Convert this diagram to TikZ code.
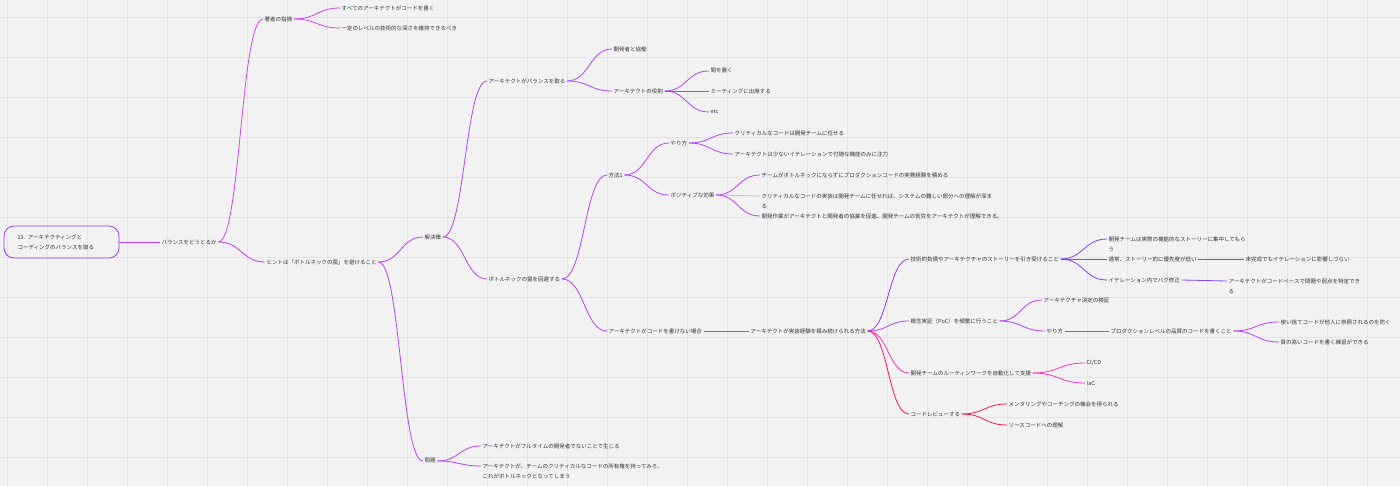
\documentclass[tikz,border=0pt]{standalone}
\usepackage{fontspec}
\setmainfont{Noto Sans CJK JP}
\usetikzlibrary{calc}
\definecolor{bggray}{RGB}{242,242,242}
\definecolor{gridgray}{RGB}{228,228,228}
\definecolor{inkgray}{RGB}{51,51,51}
\definecolor{rootviolet}{RGB}{140,60,255}
\definecolor{mainpurple}{RGB}{184,64,250}
\definecolor{toppurple}{RGB}{214,64,250}
\definecolor{debtviolet}{RGB}{136,64,245}
\definecolor{cipink}{RGB}{250,50,190}
\definecolor{revred}{RGB}{240,20,100}

\begin{document}
\begin{tikzpicture}[x=1pt, y=-1pt,
    every node/.style={font=\fontsize{5.5}{10}\selectfont, text=inkgray},
    topic/.style={anchor=west, inner sep=1.5pt},
    multi/.style={anchor=north west, align=left, inner sep=1.5pt},
    rootbox/.style={draw=rootviolet, line width=0.8pt, rounded corners=10pt,
      text width=88pt, inner xsep=13.5pt, minimum height=32pt, align=left},
    branch/.style={line width=0.8pt, to path={let \p1=(\tikztostart), \p2=(\tikztotarget) in
      .. controls ({(\x1+\x2)/2},\y1) and ({(\x1+\x2)/2},\y2) .. (\tikztotarget) \tikztonodes}},
    gridline/.style={draw=gridgray, line width=0.5pt}]

    % ---- background + grid ----
    \fill[bggray] (0,0) rectangle (1400,486);
    \useasboundingbox (0,0) rectangle (1400,486);
    \foreach \gx in {7,47,...,1399} \draw[gridline] (\gx,0) -- (\gx,486);
    \foreach \gy in {17,57,...,486} \draw[gridline] (0,\gy) -- (1400,\gy);

    % ---- root ----
    \node[rootbox] (root) at (61.5,242) {23. アーキテクティングと\\コーディングのバランスを取る};
    \node[topic] (balance) at (160,242) {バランスをどうとるか};

    % ---- top branch ----
    \node[topic] (author) at (263,19) {著者の指摘};
    \node[topic] (a1) at (340,8) {すべてのアーキテクトがコードを書く};
    \node[topic] (a2) at (340,28) {一定のレベルの技術的な深さを維持できるべき};

    % ---- hint ----
    \node[topic] (hint) at (265,262) {ヒントは「ボトルネックの罠」を避けること};
    \node[topic] (sol) at (423,237) {解決策};
    \node[topic] (prob) at (423,461) {問題};
    \node[topic] (p1) at (481,446) {アーキテクトがフルタイムの開発者でないことで生じる};
    \node[multi] (p2) at (481,461.8) {アーキテクトが、チームのクリティカルなコードの所有権を持ってみろ、\\これがボトルネックとなってしまう};

    % ---- balance ----
    \node[topic] (bal) at (487,81) {アーキテクトがバランスを取る};
    \node[topic] (coop) at (612,49) {開発者と協働};
    \node[topic] (role) at (612,91) {アーキテクトの役割};
    \node[topic] (r1) at (709,71) {間を置く};
    \node[topic] (r2) at (709,91) {ミーティングに出席する};
    \node[topic] (r3) at (709,112) {etc};

    % ---- avoid the trap ----
    \node[topic] (avoid) at (487,279) {ボトルネックの罠を回避する};
    \node[topic] (m1) at (607,175) {方法1};
    \node[topic] (how) at (669,143) {やり方};
    \node[topic] (h1) at (733,133) {クリティカルなコードは開発チームに任せる};
    \node[topic] (h2) at (733,154) {アーキテクトは少ないイテレーションで付随な機能のみに注力};
    \node[topic] (pos) at (669,195) {ポジティブな効果};
    \node[topic] (e1) at (760,175) {チームがボトルネックにならずにプロダクションコードの実務経験を積める};
    \node[multi] (e2) at (760,191.8) {クリティカルなコードの実装は開発チームに任せれば、システムの難しい部分への理解が深ま\\る};
    \node[topic] (e3) at (760,216) {開発作業がアーキテクトと開発者の協業を促進、開発チームの苦労をアーキテクトが理解できる。};

    % ---- no code ----
    \node[topic] (nocode) at (607,331) {アーキテクトがコードを書けない場合};
    \node[topic] (keep) at (749,331) {アーキテクトが実装経験を積み続けられる方法};

    \node[topic] (debt) at (909,259) {技術的負債やアーキテクチャのストーリーを引き受けること};
    \node[multi] (d1) at (1107,234.8) {開発チームは実際の機能的なストーリーに集中してもら\\う};
    \node[topic] (d2) at (1107,259) {通常、ストーリー的に優先度が低い};
    \node[topic] (d2a) at (1244,259) {未完成でもイテレーションに影響しづらい};
    \node[topic] (d3) at (1107,280) {イテレーション内でバグ修正};
    \node[multi] (d3a) at (1227,276.8) {アーキテクトがコードベースで問題や弱点を特定でき\\る};

    \node[topic] (poc) at (909,321) {概念実証（PoC）を頻繁に行うこと};
    \node[topic] (poc1) at (1042,300) {アーキテクチャ決定の検証};
    \node[topic] (poc2) at (1045,331) {やり方};
    \node[topic] (poc3) at (1109,331) {プロダクションレベルの品質のコードを書くこと};
    \node[topic] (q1) at (1279,322) {使い捨てコードが他人に参照されるのを防ぐ};
    \node[topic] (q2) at (1279,342) {質の高いコードを書く練習ができる};

    \node[topic] (auto) at (909,373) {開発チームのルーティンワークを自動化して支援};
    \node[topic] (ci) at (1085,363) {CI/CD};
    \node[topic] (iac) at (1085,383) {IaC};

    \node[topic] (rev) at (909,414) {コードレビューする};
    \node[topic] (rv1) at (1007,404) {メンタリングやコーチングの機会を得られる};
    \node[topic] (rv2) at (1007,425) {ソースコードへの理解};

    % ---- connectors ----
    \draw[branch, mainpurple] (root.east) to (balance.west);
    \draw[branch, toppurple] (balance.east) to (author.west);
    \draw[branch, mainpurple] (balance.east) to (hint.west);
    \draw[branch, toppurple] (author.east) to (a1.west);
    \draw[branch, toppurple] (author.east) to (a2.west);

    \draw[branch, mainpurple] (hint.east) to (sol.west);
    \draw[branch, mainpurple] (hint.east) to (prob.west);
    \draw[branch, mainpurple] (prob.east) to (p1.west);
    \draw[branch, mainpurple] (prob.east) to ([yshift=-4.2pt]p2.north west);

    \draw[branch, mainpurple] (sol.east) to (bal.west);
    \draw[branch, mainpurple] (sol.east) to (avoid.west);
    \draw[branch, mainpurple] (bal.east) to (coop.west);
    \draw[branch, mainpurple] (bal.east) to (role.west);
    \draw[branch, mainpurple] (role.east) to (r1.west);
    \draw[branch, mainpurple] (role.east) to (r2.west);
    \draw[branch, mainpurple] (role.east) to (r3.west);

    \draw[branch, mainpurple] (avoid.east) to (m1.west);
    \draw[branch, mainpurple] (avoid.east) to (nocode.west);
    \draw[branch, mainpurple] (m1.east) to (how.west);
    \draw[branch, mainpurple] (m1.east) to (pos.west);
    \draw[branch, mainpurple] (how.east) to (h1.west);
    \draw[branch, mainpurple] (how.east) to (h2.west);
    \draw[branch, mainpurple] (pos.east) to (e1.west);
    \draw[branch, mainpurple!45] (pos.east) to ([yshift=-4.2pt]e2.north west);
    \draw[branch, mainpurple] (pos.east) to (e3.west);

    \draw[branch, mainpurple] (nocode.east) to (keep.west);
    \draw[branch, debtviolet] (keep.east) to (debt.west);
    \draw[branch, mainpurple] (keep.east) to (poc.west);
    \draw[branch, cipink] (keep.east) to (auto.west);
    \draw[branch, revred] (keep.east) to (rev.west);

    \draw[branch, debtviolet] (debt.east) to ([yshift=-4.2pt]d1.north west);
    \draw[branch, debtviolet] (debt.east) to (d2.west);
    \draw[branch, debtviolet] (debt.east) to (d3.west);
    \draw[branch, debtviolet] (d2.east) to (d2a.west);
    \draw[branch, debtviolet] (d3.east) to ([yshift=-4.2pt]d3a.north west);

    \draw[branch, mainpurple] (poc.east) to (poc1.west);
    \draw[branch, mainpurple] (poc.east) to (poc2.west);
    \draw[branch, mainpurple] (poc2.east) to (poc3.west);
    \draw[branch, mainpurple] (poc3.east) to (q1.west);
    \draw[branch, mainpurple] (poc3.east) to (q2.west);

    \draw[branch, cipink] (auto.east) to (ci.west);
    \draw[branch, cipink] (auto.east) to (iac.west);
    \draw[branch, revred] (rev.east) to (rv1.west);
    \draw[branch, revred] (rev.east) to (rv2.west);

  \end{tikzpicture}
\end{document}
